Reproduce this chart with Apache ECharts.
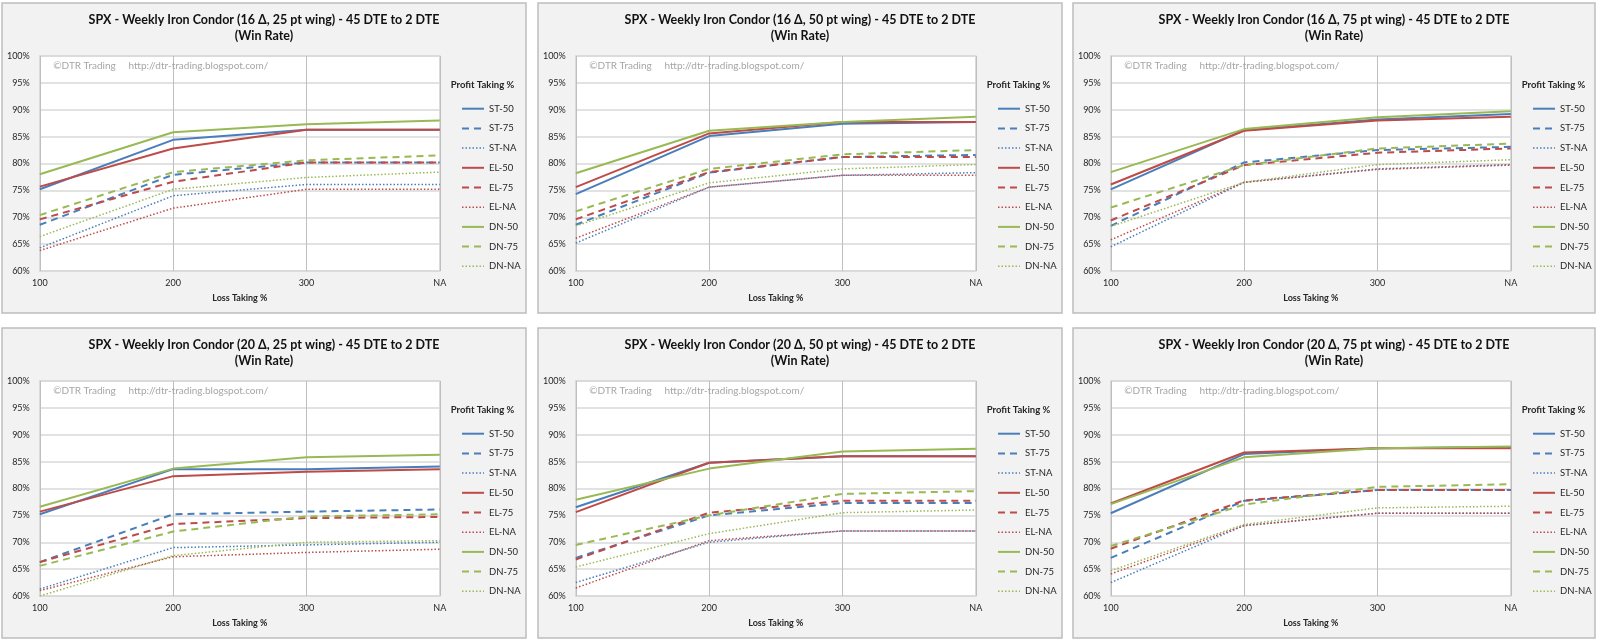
<!DOCTYPE html>
<html>
<head>
<meta charset="utf-8">
<script src="https://cdn.jsdelivr.net/npm/echarts@6/dist/echarts.min.js"></script>
<style>
html,body{margin:0;padding:0;background:#ffffff;}
#chart{width:1600px;height:641px;}
</style>
</head>
<body>
<div id="chart"></div>
<script>
// ---- data ----
const lossTaking = ['100', '200', '300', 'NA'];
const seriesNames = ['ST-50', 'ST-75', 'ST-NA', 'EL-50', 'EL-75', 'EL-NA', 'DN-50', 'DN-75', 'DN-NA'];
const yTicks = [60, 65, 70, 75, 80, 85, 90, 95, 100];

const panelTitles = [
  'SPX - Weekly Iron Condor (16 Δ, 25 pt wing) - 45 DTE to 2 DTE',
  'SPX - Weekly Iron Condor (16 Δ, 50 pt wing) - 45 DTE to 2 DTE',
  'SPX - Weekly Iron Condor (16 Δ, 75 pt wing) - 45 DTE to 2 DTE',
  'SPX - Weekly Iron Condor (20 Δ, 25 pt wing) - 45 DTE to 2 DTE',
  'SPX - Weekly Iron Condor (20 Δ, 50 pt wing) - 45 DTE to 2 DTE',
  'SPX - Weekly Iron Condor (20 Δ, 75 pt wing) - 45 DTE to 2 DTE'
];

// win rate (%) per series, in seriesNames order
const win16d25w = [
  [75.2, 84.4, 86.3, 86.3],
  [68.6, 77.9, 80.2, 80.2],
  [64.3, 74.0, 76.1, 76.1],
  [75.7, 82.8, 86.3, 86.3],
  [69.6, 76.6, 80.2, 80.2],
  [63.8, 71.7, 75.2, 75.2],
  [78.0, 85.8, 87.3, 88.0],
  [70.4, 78.4, 80.6, 81.5],
  [66.4, 75.2, 77.4, 78.4]
];
const win16d50w = [
  [74.3, 85.1, 87.4, 87.7],
  [68.6, 78.3, 81.2, 81.6],
  [65.2, 75.6, 77.8, 78.3],
  [75.6, 85.6, 87.7, 87.7],
  [69.6, 78.4, 81.2, 81.2],
  [66.1, 75.6, 77.8, 77.8],
  [78.2, 86.1, 87.7, 88.7],
  [71.1, 79.0, 81.7, 82.5],
  [68.4, 76.4, 79.0, 79.8]
];
const win16d75w = [
  [75.2, 86.2, 88.2, 89.2],
  [68.4, 80.2, 82.5, 83.1],
  [64.5, 76.5, 79.0, 79.8],
  [76.1, 86.1, 88.0, 88.7],
  [69.4, 79.7, 82.0, 82.8],
  [65.8, 76.5, 78.9, 79.7],
  [78.4, 86.4, 88.6, 89.7],
  [71.8, 79.7, 82.8, 83.7],
  [68.3, 76.5, 79.8, 80.7]
];
const win20d25w = [
  [75.2, 83.6, 83.6, 84.1],
  [66.3, 75.2, 75.7, 76.1],
  [61.3, 69.0, 69.5, 70.0],
  [75.7, 82.3, 83.1, 83.6],
  [66.3, 73.4, 74.5, 74.7],
  [61.0, 67.3, 68.1, 68.7],
  [76.6, 83.7, 85.8, 86.3],
  [65.6, 72.0, 74.8, 75.2],
  [60.0, 67.5, 70.0, 70.3]
];
const win20d50w = [
  [76.5, 84.8, 86.0, 86.0],
  [67.1, 75.0, 77.3, 77.3],
  [62.5, 70.0, 72.1, 72.1],
  [75.6, 84.8, 86.0, 86.0],
  [66.8, 75.5, 77.7, 77.7],
  [61.5, 70.3, 72.1, 72.1],
  [77.9, 83.7, 86.9, 87.4],
  [69.5, 75.0, 79.0, 79.5],
  [65.4, 71.6, 75.5, 76.0]
];
const win20d75w = [
  [75.4, 86.4, 87.5, 87.7],
  [67.1, 77.7, 79.7, 79.7],
  [62.5, 73.1, 75.4, 75.4],
  [77.2, 86.7, 87.5, 87.5],
  [68.8, 77.8, 79.7, 79.7],
  [64.1, 73.1, 75.4, 75.4],
  [77.1, 85.8, 87.5, 87.8],
  [69.3, 77.0, 80.3, 80.8],
  [64.7, 73.3, 76.4, 76.7]
];
const panelData = [win16d25w, win16d50w, win16d75w, win20d25w, win20d50w, win20d75w];

// ---- styling / layout ----
const FONT = 'Lato, "Open Sans", sans-serif';
const colors = ['#4a7ebb', '#4a7ebb', '#4a7ebb', '#be4b48', '#be4b48', '#be4b48', '#98b954', '#98b954', '#98b954'];
const lineTypes = ['solid', [7, 5], [1.5, 2], 'solid', [7, 5], [1.5, 2], 'solid', [7, 5], [1.5, 2]];
const lineWidths = [2, 2, 1.5, 2, 2, 1.5, 2, 2, 1.5];

const panelLefts = [2, 538, 1073];
const panelWidths = [524, 524, 522];
const panelTops = [3, 328];
const panelH = 310;
const gridRelLeft = 37.8, gridW = 400, gridRelTop = 53, gridH = 215;

const chart = echarts.init(document.getElementById('chart'), null, {renderer: 'canvas'});

const grids = [], xAxes = [], yAxes = [], series = [], titles = [], legends = [], graphics = [];

const legendItems = seriesNames.map((n, k) => ({
  name: n,
  itemStyle: {opacity: 0, borderWidth: 0},
  lineStyle: {color: colors[k], width: lineWidths[k], type: lineTypes[k]}
}));

for (let p = 0; p < 6; p++) {
  const c = p % 3, r = Math.floor(p / 3);
  const pl = panelLefts[c], pt = panelTops[r], pw = panelWidths[c];
  const gl = pl + gridRelLeft, gt = pt + gridRelTop;

  graphics.push({
    type: 'rect', z: -10, silent: true,
    shape: {x: pl, y: pt, width: pw, height: panelH},
    style: {fill: '#f2f2f2', stroke: '#bdbdbd', lineWidth: 1.5}
  });
  graphics.push({
    type: 'text', z: 100, silent: true,
    x: gl + 13.5, y: gt + 9.5,
    style: {text: '©DTR Trading     http://dtr-trading.blogspot.com/', fill: '#a6a6a6',
            font: '10px ' + FONT, verticalAlign: 'middle', align: 'left'}
  });
  graphics.push({
    type: 'text', z: 100, silent: true,
    x: pl + 480.5, y: pt + 82,
    style: {text: 'Profit Taking %', fill: '#262626',
            font: 'bold 9.5px ' + FONT, verticalAlign: 'middle', align: 'center'}
  });

  titles.push({
    text: panelTitles[p] + '\n(Win Rate)',
    left: pl + pw / 2, top: pt + 9,
    textAlign: 'center', padding: 0,
    textStyle: {fontFamily: FONT, fontWeight: 'bold', fontSize: 12.5, lineHeight: 16.3, color: '#111111'}
  });

  grids.push({
    left: gl, top: gt, width: gridW, height: gridH,
    show: true, backgroundColor: '#ffffff', borderColor: '#d9d9d9', borderWidth: 1.5,
    containLabel: false
  });

  xAxes.push({
    type: 'category', gridIndex: p, data: lossTaking, boundaryGap: false,
    name: 'Loss Taking %', nameLocation: 'middle', nameGap: 23,
    nameTextStyle: {fontFamily: FONT, fontWeight: 'bold', fontSize: 9, color: '#262626'},
    axisLine: {show: false}, axisTick: {show: false},
    axisLabel: {fontFamily: FONT, fontSize: 9, color: '#262626', margin: 8},
    splitLine: {show: true, lineStyle: {color: '#bfbfbf', width: 1}}
  });

  yAxes.push({
    type: 'value', gridIndex: p, min: yTicks[0], max: yTicks[yTicks.length - 1], interval: 5,
    axisLine: {show: false}, axisTick: {show: false},
    axisLabel: {fontFamily: FONT, fontSize: 9, color: '#262626', margin: 10, formatter: '{value}%'},
    splitLine: {show: true, lineStyle: {color: '#d9d9d9', width: 1.5}}
  });

  legends.push({
    data: legendItems, orient: 'vertical',
    left: pl + 459, top: pt + 100.7,
    itemWidth: 22, itemHeight: 8, itemGap: 9.7, padding: 0,
    selectedMode: false,
    itemStyle: {opacity: 0},
    textStyle: {fontFamily: FONT, fontSize: 9.5, color: '#262626'}
  });

  for (let k = 0; k < seriesNames.length; k++) {
    series.push({
      type: 'line', name: seriesNames[k], xAxisIndex: p, yAxisIndex: p,
      data: panelData[p][k], symbol: 'none', showSymbol: false, animation: false,
      lineStyle: {color: colors[k], width: lineWidths[k], type: lineTypes[k]},
      itemStyle: {color: colors[k]},
      z: 2 + k
    });
  }
}

chart.setOption({
  backgroundColor: '#ffffff',
  animation: false,
  title: titles,
  legend: legends,
  grid: grids,
  xAxis: xAxes,
  yAxis: yAxes,
  series: series,
  graphic: {elements: graphics}
});
</script>
</body>
</html>
